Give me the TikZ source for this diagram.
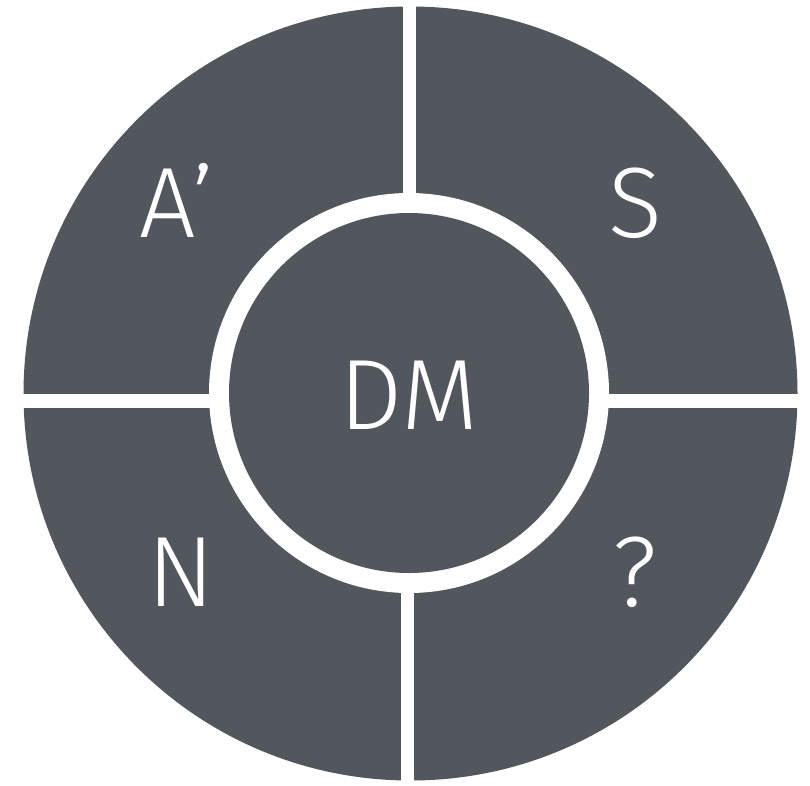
\documentclass[tikz,border=0pt]{standalone}
\usepackage{fontspec}
\setmainfont{Fira Sans Light}
\definecolor{disc}{HTML}{52565D}
\begin{document}
\begin{tikzpicture}[x=1pt,y=-1pt,
  lbl/.style={text=white,font=\fontsize{100}{100}\selectfont,anchor=base,inner sep=0pt}]
\useasboundingbox (0,0) rectangle (810,785);
% outer disc
\fill[disc] (410.5,393.5) circle (387);
% white gaps
\fill[white] (403,0) rectangle (416,394);
\fill[white] (401,394) rectangle (414,785);
\fill[white] (0,394) rectangle (810,408);
% ring and inner disc
\fill[white] (409,393) circle (200);
\fill[disc] (409,393) circle (180);
% labels
\node[lbl] (dm) at (409,429) {DM};
\node[lbl] (a) at (177,237) {A’};
\node[lbl] (s) at (635,237) {S};
\node[lbl] (n) at (181,606) {N};
\node[lbl] (q) at (635,606) {?};
\end{tikzpicture}
\end{document}
